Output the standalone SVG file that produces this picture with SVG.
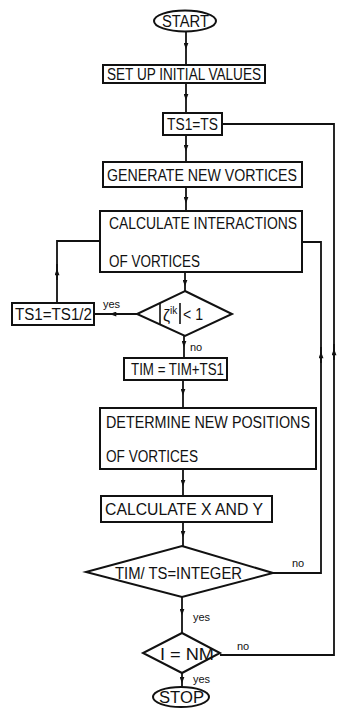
<svg xmlns="http://www.w3.org/2000/svg" width="344" height="720" viewBox="0 0 344 720">
<defs>
<style>
.n{fill:none;stroke:#111;stroke-width:2}
.p{fill:none;stroke:#111;stroke-width:1.8}
.c{fill:none;stroke:#111;stroke-width:1.8;marker-mid:url(#a)}
.t{font-family:"Liberation Sans",Arial,sans-serif;font-size:16px;fill:#111}
.l{font-family:"Liberation Sans",Arial,sans-serif;font-size:11px;fill:#111}
</style>
<marker id="a" viewBox="0 0 8 6" refX="4" refY="3" markerWidth="7" markerHeight="5" markerUnits="userSpaceOnUse" orient="auto">
<path d="M0,0 L8,3 L0,6 z" fill="#111"/>
</marker>
</defs>
<rect width="344" height="720" fill="#fff"/>
<g id="connectors">
<path class="c" d="M186,32 V46 V65"/>
<path class="c" d="M186,83 V97 V113"/>
<path class="c" d="M186,135 V148 V162"/>
<path class="c" d="M186,187 V200 V211"/>
<path class="c" d="M185,272 V283 V291"/>
<path class="c" d="M184,336 V344 V358"/>
<path class="c" d="M183,380 V392 V408"/>
<path class="c" d="M183,469 V483 V496"/>
<path class="c" d="M183,522 V534 V546"/>
<path class="c" d="M182,597 V612 V633"/>
<path class="c" d="M182,673 V680 V688"/>
<path class="c" d="M137,314 H113 H94"/>
<path class="p" d="M57,303 V241 H100"/>
<path class="c" d="M57,280 V272 V264"/>
<path class="p" d="M273,573 H321 V242 H302"/>
<path class="c" d="M321,363 V355 V347"/>
<path class="p" d="M220,655 H334 V124 H222"/>
<path class="c" d="M334,360 V352 V344"/>
<text class="l" x="103" y="308">yes</text>
<text class="l" x="190" y="351">no</text>
<text class="l" x="292" y="567">no</text>
<text class="l" x="193" y="621">yes</text>
<text class="l" x="237" y="650">no</text>
<text class="l" x="193" y="683">yes</text>
</g>
<g id="start">
<ellipse class="n" cx="185" cy="21" rx="31" ry="10.5"/>
<text class="t" x="162" y="27" textLength="47" lengthAdjust="spacingAndGlyphs">START</text>
</g>
<g id="setup">
<rect class="n" x="103" y="65" width="162" height="18"/>
<text class="t" x="107" y="80" textLength="154" lengthAdjust="spacingAndGlyphs">SET UP INITIAL VALUES</text>
</g>
<g id="ts1ts">
<rect class="n" x="163" y="113" width="59" height="22"/>
<text class="t" x="167" y="130" textLength="51" lengthAdjust="spacingAndGlyphs">TS1=TS</text>
</g>
<g id="generate">
<rect class="n" x="103" y="162" width="199" height="25"/>
<text class="t" x="107" y="181" textLength="190" lengthAdjust="spacingAndGlyphs">GENERATE NEW VORTICES</text>
</g>
<g id="calcint">
<rect class="n" x="100" y="211" width="202" height="61"/>
<text class="t" x="109" y="229" textLength="188" lengthAdjust="spacingAndGlyphs">CALCULATE INTERACTIONS</text>
<text class="t" x="109" y="267" textLength="91" lengthAdjust="spacingAndGlyphs">OF VORTICES</text>
</g>
<g id="halve">
<rect class="n" x="12" y="303" width="82" height="22"/>
<text class="t" x="15" y="320" textLength="77" lengthAdjust="spacingAndGlyphs">TS1=TS1/2</text>
</g>
<g id="zeta">
<polygon class="n" points="185,291 232,314 185,336 137,314"/>
<line x1="160" y1="303" x2="160" y2="324" stroke="#111" stroke-width="1.6"/>
<line x1="180" y1="303" x2="180" y2="324" stroke="#111" stroke-width="1.6"/>
<text class="t" x="163" y="321" font-size="17">ζ<tspan font-size="10" dy="-7">ik</tspan></text>
<text class="t" x="183" y="320" textLength="20" lengthAdjust="spacingAndGlyphs">&lt; 1</text>
</g>
<g id="tim">
<rect class="n" x="124" y="358" width="103" height="22"/>
<text class="t" x="131" y="375" textLength="93" lengthAdjust="spacingAndGlyphs">TIM = TIM+TS1</text>
</g>
<g id="determine">
<rect class="n" x="100" y="408" width="216" height="61"/>
<text class="t" x="106" y="428" textLength="204" lengthAdjust="spacingAndGlyphs">DETERMINE NEW POSITIONS</text>
<text class="t" x="106" y="462" textLength="92" lengthAdjust="spacingAndGlyphs">OF VORTICES</text>
</g>
<g id="calcxy">
<rect class="n" x="101" y="496" width="171" height="26"/>
<text class="t" x="105" y="515" textLength="158" lengthAdjust="spacingAndGlyphs">CALCULATE X AND Y</text>
</g>
<g id="integer">
<polygon class="n" points="182,546 273,573 182,597 86,572"/>
<text class="t" x="115" y="579" textLength="127" lengthAdjust="spacingAndGlyphs">TIM/ TS=INTEGER</text>
</g>
<g id="inm">
<polygon class="n" points="182,633 220,653 182,673 143,653"/>
<text class="t" x="160" y="660" textLength="54" lengthAdjust="spacingAndGlyphs">I = NM</text>
</g>
<g id="stop">
<ellipse class="n" cx="181" cy="697" rx="28" ry="10"/>
<text class="t" x="159" y="703" textLength="45" lengthAdjust="spacingAndGlyphs">STOP</text>
</g>
</svg>
